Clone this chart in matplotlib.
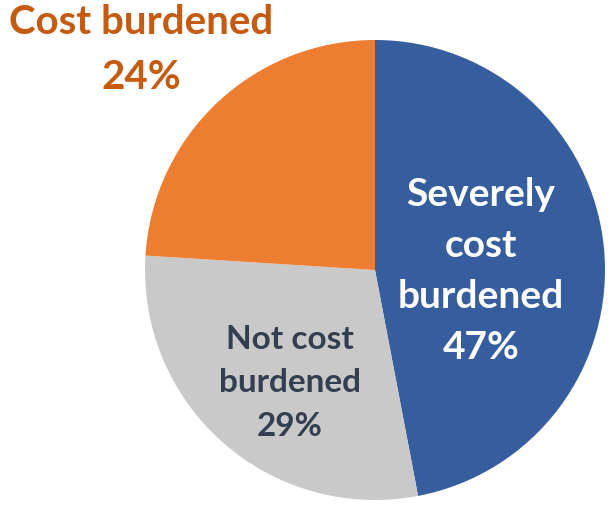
import matplotlib.pyplot as plt

# data
labels = ['Severely\ncost\nburdened\n47%', 'Not cost\nburdened\n29%', 'Cost burdened\n24%']
shares = [47, 29, 24]
colors = ['#365E9F', '#C9C9C9', '#ED7D31']
text_colors = ['white', '#333F50', '#C55A11']

W, H = 613, 508
fig = plt.figure(figsize=(W / 100, H / 100), dpi=100)
ax = fig.add_axes([0, 0, 1, 1])

cx, cy, r = 375, H - 270, 230
ax.pie(shares, colors=colors, startangle=90, counterclock=False,
       center=(cx, cy), radius=r, frame=True,
       wedgeprops=dict(linewidth=0))
ax.set_xlim(0, W)
ax.set_ylim(0, H)
ax.set_aspect('equal')
ax.axis('off')

# label positions in pixel coords (from top), font size, line spacing
pos = [(481, 271), (290, 383), (141, 50)]
sizes = [28, 24, 29]
spacing = [1.55, 1.62, 1.6]
for lab, (x, y), c, fs, ls in zip(labels, pos, text_colors, sizes, spacing):
    ax.text(x, H - y, lab, ha='center', va='center', color=c,
            fontsize=fs, fontweight='bold', family='Lato', linespacing=ls)

fig.savefig('out.png', dpi=100)
